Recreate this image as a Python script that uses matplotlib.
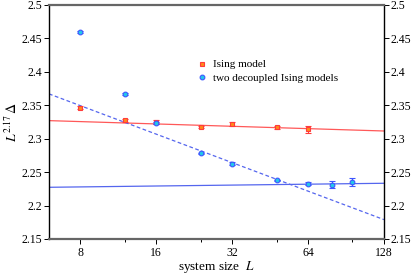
import matplotlib
import matplotlib.pyplot as plt
from matplotlib.lines import Line2D
from matplotlib.ticker import FixedLocator, NullFormatter

matplotlib.use("Agg")

plt.rcParams["font.family"] = ["Liberation Serif", "DejaVu Serif"]
plt.rcParams["mathtext.fontset"] = "stix"

ising_L = [8, 12, 16, 24, 32, 48, 64]
ising_val = [2.3465, 2.3275, 2.3255, 2.3175, 2.3215, 2.317, 2.314]
ising_err = [0.002, 0.002, 0.003, 0.002, 0.003, 0.002, 0.005]

two_L = [8, 12, 16, 24, 32, 48, 64, 80, 96]
two_val = [2.4595, 2.367, 2.3235, 2.278, 2.2628, 2.2375, 2.2328, 2.231, 2.2345]
two_err = [0.001, 0.001, 0.002, 0.001, 0.002, 0.001, 0.002, 0.005, 0.006]

fit_L = [6, 128]
ising_fit = [2.327, 2.3115]
two_fit = [2.2273, 2.2333]
two_fit_dashed = [2.367, 2.179]

major_ticks = [8, 16, 32, 64, 128]
minor_ticks = [12, 24, 48, 96]
y_ticks = [2.15, 2.2, 2.25, 2.3, 2.35, 2.4, 2.45, 2.5]

red = "#ff3b3b"
orange = "#ff8a1a"
blue = "#3d55ff"
cyan = "#22c8e8"
fit_blue = "#5566ee"

ising_style = dict(marker="s", markerfacecolor=orange, markeredgecolor=red,
                   markersize=3.2, markeredgewidth=0.8)
two_style = dict(marker="o", markerfacecolor=cyan, markeredgecolor=blue,
                 markersize=3.4, markeredgewidth=0.8)

fig = plt.figure(figsize=(4.15, 2.75), dpi=100)
ax = fig.add_axes([0.118, 0.131, 0.807, 0.851])

ax.plot(fit_L, ising_fit, color=red, linewidth=0.9, alpha=0.85)
ax.plot(fit_L, two_fit, color=fit_blue, linewidth=0.9)
ax.plot(fit_L, two_fit_dashed, color=fit_blue, linewidth=0.9, linestyle=(0, (3, 2)))

ax.errorbar(ising_L, ising_val, yerr=ising_err, linestyle="none", color=red,
            elinewidth=0.8, capsize=2.5, capthick=0.8, **ising_style)
ax.errorbar(two_L, two_val, yerr=two_err, linestyle="none", color=blue,
            elinewidth=0.8, capsize=2.5, capthick=0.8, **two_style)

ax.set_xscale("log", base=2)
ax.set_xlim(6, 128)
ax.set_ylim(2.15, 2.5)
ax.xaxis.set_major_locator(FixedLocator(major_ticks))
ax.xaxis.set_minor_locator(FixedLocator(minor_ticks))
ax.set_xticklabels([str(t) for t in major_ticks])
ax.xaxis.set_minor_formatter(NullFormatter())
ax.set_yticks(y_ticks)
ax.set_yticklabels(["2.15", "2.2", "2.25", "2.3", "2.35", "2.4", "2.45", "2.5"])

ax.tick_params(axis="y", which="both", direction="out", length=3.5, width=0.7,
               labelsize=8.5, left=True, right=True, labelleft=True, labelright=True,
               pad=1.5)
ax.tick_params(axis="x", which="major", direction="out", length=3.5, width=0.7,
               labelsize=8.5, pad=2)
ax.tick_params(axis="x", which="minor", direction="out", length=2, width=0.7)

for side in ["top", "bottom"]:
    ax.spines[side].set_color("#666666")
    ax.spines[side].set_linewidth(1.6)
for side in ["left", "right"]:
    ax.spines[side].set_color("black")
    ax.spines[side].set_linewidth(1.0)

ax.set_xlabel("system size  $L$", fontsize=9.5, labelpad=0)
ax.set_ylabel(r"$L^{2.17}\,\Delta$", fontsize=10, labelpad=1)

handles = [Line2D([], [], linestyle="none", **ising_style),
           Line2D([], [], linestyle="none", **two_style)]
ax.legend(handles, ["Ising model", "two decoupled Ising models"],
          loc="upper left", bbox_to_anchor=(0.43, 0.785), frameon=False,
          fontsize=8, handlelength=0.8, handletextpad=0.6, labelspacing=0.35,
          borderaxespad=0)

fig.savefig("out.png", dpi=100)
